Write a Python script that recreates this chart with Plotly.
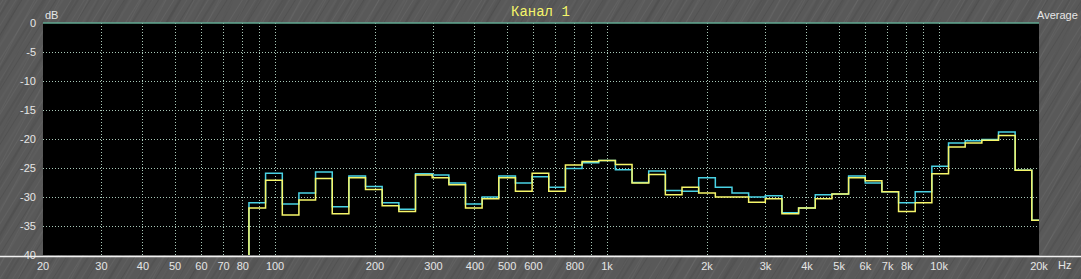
import math
import base64
import plotly.graph_objects as go

# 1/6-octave band centres (Hz); first entry is the silent band below the measured range
band_hz = [78.7, 88.4, 99.2, 111.4, 125, 140.3, 157.5, 176.8, 198.4, 222.7, 250,
           280.6, 315, 353.6, 396.9, 445.4, 500, 561.2, 630, 707.1, 793.7, 890.9,
           1000, 1122.5, 1259.9, 1414.2, 1587.4, 1781.8, 2000, 2244.9, 2519.8,
           2828.4, 3174.8, 3563.6, 4000, 4489.8, 5039.7, 5656.9, 6349.6, 7127.2,
           8000, 8979.7, 10079, 11314, 12699, 14254, 16000, 17959, 20159]

cyan_db = [-60, -31.0, -25.9, -31.2, -29.3, -25.7, -31.7, -26.4, -28.2, -31.0, -32.1,
           -26.0, -26.2, -27.6, -31.2, -30.0, -26.4, -27.6, -26.5, -28.3, -25.1, -24.1,
           -23.7, -25.3, -27.5, -25.5, -28.9, -29.0, -26.7, -28.3, -29.3,
           -30.0, -29.8, -32.7, -31.9, -29.6, -29.5, -26.4, -27.6, -29.1,
           -31.0, -29.1, -24.7, -20.7, -20.3, -20.1, -18.8, -25.4, -34.0]

yellow_db = [-60, -31.9, -27.1, -33.1, -30.5, -26.8, -32.9, -26.7, -28.7, -31.5, -32.5,
             -26.2, -26.7, -27.9, -31.9, -30.3, -26.7, -29.0, -25.9, -29.0, -24.5, -23.9,
             -23.7, -24.4, -27.6, -26.1, -29.6, -28.3, -29.3, -30.0, -30.0,
             -30.9, -30.3, -32.9, -31.9, -30.3, -29.5, -26.7, -27.2, -29.1,
             -32.5, -31.0, -26.0, -21.4, -20.7, -20.2, -19.4, -25.4, -34.0]

grid_hz = [20, 30, 40, 50, 60, 70, 80, 90, 100, 200, 300, 400, 500, 600, 700, 800, 900,
           1000, 2000, 3000, 4000, 5000, 6000, 7000, 8000, 9000, 10000, 20000]
grid_text = ["20", "30", "40", "50", "60", "70", "80", "", "100", "200", "300", "400",
             "500", "600", "", "800", "", "1k", "2k", "3k", "4k", "5k", "6k", "7k",
             "8k", "", "10k", "20k"]

db_ticks = [0, -5, -10, -15, -20, -25, -30, -35, -40]
db_text = ["0", "-5", "-10", "-15", "-20", "-25", "-30", "-35", "-40"]

half = 2 ** (1 / 12)


def steps(vals):
    xs = [c / half for c in band_hz] + [band_hz[-1] * half]
    ys = list(vals) + [vals[-1]]
    return xs, ys


W, H = 1081, 279
L, R, T, B = 43, 42, 23, 24
pw = W - L - R
ph = H - T - B

# brushed-grey backdrop (style only): two overlaid streak patterns, black plot window
def streak_pattern(pid, width, specs, angle):
    lines = "".join(
        f'<rect x="{x}" y="0" width="{w}" height="200" fill="{c}" fill-opacity="{o}"/>'
        for x, w, c, o in specs)
    return (f'<pattern id="{pid}" width="{width}" height="200" patternUnits="userSpaceOnUse" '
            f'patternTransform="rotate({angle})">{lines}</pattern>')

p1 = streak_pattern("a", 29, [(2, 1, "#7a7a7a", 0.25), (7, 2, "#3e3e3e", 0.25),
                               (13, 1, "#767676", 0.22), (18, 1, "#404040", 0.3),
                               (23, 2, "#707070", 0.18)], 32)
p2 = streak_pattern("b", 47, [(5, 1, "#808080", 0.18), (16, 3, "#454545", 0.18),
                               (30, 1, "#7c7c7c", 0.22), (39, 2, "#4a4a4a", 0.22)], 28)
svg = (f'<svg xmlns="http://www.w3.org/2000/svg" width="{W}" height="{H}">'
       f'<defs>{p1}{p2}</defs>'
       f'<rect width="{W}" height="{H}" fill="#595959"/>'
       f'<rect width="{W}" height="{H}" fill="url(#a)"/>'
       f'<rect width="{W}" height="{H}" fill="url(#b)"/>'
       f'<rect x="{L}" y="{T}" width="{pw}" height="{ph}" fill="#000000"/></svg>')
bg_src = "data:image/svg+xml;base64," + base64.b64encode(svg.encode()).decode()

fig = go.Figure()
for vals, col in ((cyan_db, "#4ad2e4"), (yellow_db, "#f6f66a")):
    xs, ys = steps(vals)
    fig.add_trace(go.Scatter(x=xs, y=ys, mode="lines", line=dict(color=col, width=1.5, shape="hv"),
                             hoverinfo="skip", showlegend=False))

grid_col = "#a9c9b9"
tick_font = dict(family="Liberation Sans, Arial, sans-serif", size=11, color="#e6e6e6")

fig.update_xaxes(type="log", range=[math.log10(20), math.log10(20000)],
                 tickvals=grid_hz, ticktext=grid_text, showgrid=True, gridcolor=grid_col,
                 gridwidth=1, griddash="1px,2px", zeroline=False, showline=False,
                 ticks="", tickfont=tick_font, ticklabelstandoff=3, fixedrange=True,
                 automargin=False)
fig.update_yaxes(range=[-40, 0], tickvals=db_ticks, ticktext=db_text, showgrid=True,
                 gridcolor=grid_col, gridwidth=1, griddash="1px,2px", zeroline=False,
                 showline=False, ticks="", tickfont=tick_font, ticklabelstandoff=6,
                 fixedrange=True, automargin=False)

fig.add_layout_image(source=bg_src, xref="paper", yref="paper", x=-L / pw, y=1 + T / ph,
                     sizex=W / pw, sizey=H / ph, xanchor="left", yanchor="top",
                     sizing="stretch", layer="below")

fig.add_shape(type="line", xref="paper", yref="paper", x0=0, x1=1, y0=1, y1=1,
              line=dict(color="#62a892", width=1.5))
fig.add_shape(type="line", xref="paper", yref="paper", x0=-L / pw, x1=(W - L) / pw,
              y0=-1.5 / ph, y1=-1.5 / ph, line=dict(color="#f2f2f2", width=1.5))

ann_font = dict(family="Liberation Sans, Arial, sans-serif", size=11, color="#e6e6e6")
fig.add_annotation(text="dB", xref="paper", yref="paper", x=-0.5 / pw, y=1, xanchor="left",
                   yanchor="bottom", showarrow=False, font=ann_font)
fig.add_annotation(text="Average", xref="paper", yref="paper", x=(W - 1 - L) / pw, y=1,
                   xanchor="right", yanchor="bottom", showarrow=False, font=ann_font)
fig.add_annotation(text="Hz", xref="paper", yref="paper", x=1 + 17 / pw, y=0,
                   xanchor="left", yanchor="top", showarrow=False, font=ann_font, yshift=-2)
fig.add_annotation(text="Канал 1", xref="paper", yref="paper", x=(540 - L) / pw, y=1,
                   xanchor="center", yanchor="bottom", showarrow=False, yshift=1,
                   font=dict(family="Liberation Mono, Courier New, monospace", size=14,
                             color="#f4f46a"))

fig.update_layout(width=W, height=H, margin=dict(l=L, r=R, t=T, b=B, pad=0),
                  paper_bgcolor="#595959", plot_bgcolor="#000000", showlegend=False)

fig.write_html("out.html", config={"displayModeBar": False})
